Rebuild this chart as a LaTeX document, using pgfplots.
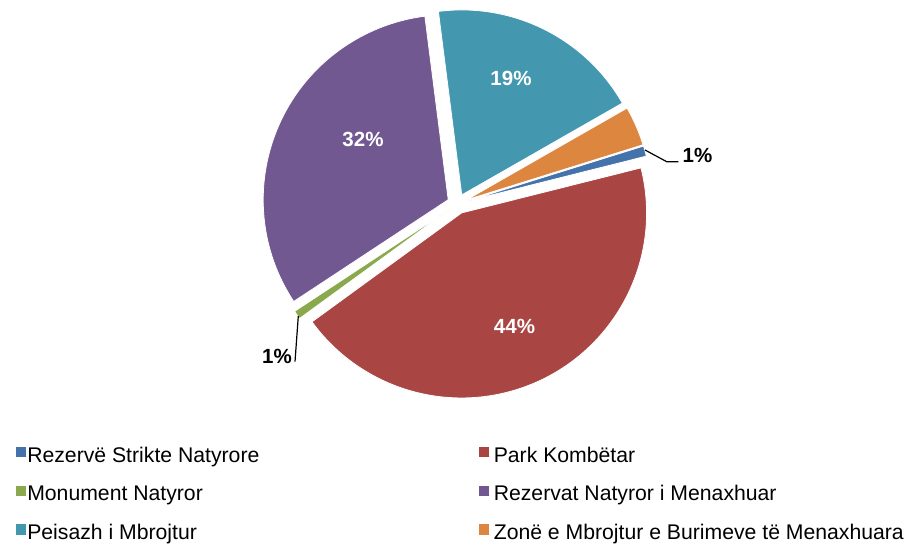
\documentclass[border=0pt]{standalone}
\usepackage{pgfplots}
\usepackage{pgfplotstable}
\pgfplotsset{compat=1.18}
\usepackage{fontspec}
\setmainfont{Liberation Sans}
\definecolor{pieblue}{HTML}{4472AA}
\definecolor{piered}{HTML}{A94542}
\definecolor{piegreen}{HTML}{8AA94D}
\definecolor{piepurple}{HTML}{725891}
\definecolor{pieteal}{HTML}{4398B0}
\definecolor{pieorange}{HTML}{DD863F}
% share of each category (percent), in drawing order (clockwise)
\pgfplotstableread{
pct
0.9
43.9
0.75
32.25
18.75
3.45
}\piedata
\def\piecolors{{"pieblue","piered","piegreen","piepurple","pieteal","pieorange"}}
\begin{document}
\begin{tikzpicture}
\begin{axis}[
  width=909bp, height=543bp, scale only axis,
  xmin=0, xmax=909, ymin=0, ymax=543, enlargelimits=false,
  hide axis, clip=false,
  legend columns=2,
  legend style={draw=none, fill=none, at={(axis cs:16,96)}, anchor=north west,
    inner sep=0pt, outer sep=0pt, column sep=0pt, row sep=19bp,
    nodes={inner sep=0pt, text height=15bp, text depth=4.5bp},
    font=\fontsize{21.2bp}{25bp}\selectfont},
  legend cell align=left,
  legend image code/.code={\fill (0bp,-0.5bp) rectangle (10bp,10bp); \path (0bp,0bp) -- (11.3bp,0bp);},
]
\path (axis cs:0,0) rectangle (axis cs:909,543);
\addlegendimage{fill=pieblue, draw=none}
\addlegendentry{\makebox[451.7bp][l]{Rezervë Strikte Natyrore}}
\addlegendimage{fill=piered, draw=none}
\addlegendentry{\hspace*{3.5bp}Park Kombëtar}
\addlegendimage{fill=piegreen, draw=none}
\addlegendentry{\makebox[451.7bp][l]{Monument Natyror}}
\addlegendimage{fill=piepurple, draw=none}
\addlegendentry{\hspace*{3.5bp}Rezervat Natyror i Menaxhuar}
\addlegendimage{fill=pieteal, draw=none}
\addlegendentry{\makebox[451.7bp][l]{Peisazh i Mbrojtur}}
\addlegendimage{fill=pieorange, draw=none}
\addlegendentry{\hspace*{3.5bp}Zonë e Mbrojtur e Burimeve të Menaxhuara}

\pgfplotsextra{
  \def\curang{17.34}
  \pgfplotsforeachungrouped \i in {0,...,5}{
    \pgfplotstablegetelem{\i}{pct}\of\piedata
    \let\p=\pgfplotsretval
    \pgfmathsetmacro\sa{\curang}
    \pgfmathsetmacro\ea{\curang-3.6*\p}
    \pgfmathsetmacro\ma{(\sa+\ea)/2}
    \pgfmathsetmacro\cx{457.3+10*cos(\ma)}
    \pgfmathsetmacro\cy{339.1+10*sin(\ma)}
    \pgfmathparse{\piecolors[\i]}\let\col=\pgfmathresult
    \fill[fill=\col, draw=white, line width=0.8bp] (axis cs:\cx,\cy) -- ++(\sa:185bp)
      arc[start angle=\sa, end angle=\ea, radius=185bp] -- cycle;
    \global\let\curang=\ea
  }
}
% leader lines
\addplot[forget plot, black, line width=1.2bp] coordinates {(645,393) (666.7,381.3) (678.3,381.3)};
\addplot[forget plot, black, line width=1.2bp] coordinates {(298.3,227) (295,181.3)};
% data labels
\begin{scope}[every node/.style={inner sep=0pt, anchor=base, font=\fontsize{20.5bp}{24bp}\selectfont\bfseries}]
\node[white] at (axis cs:511,457) {19\%};
\node[white] at (axis cs:363,396) {32\%};
\node[white] at (axis cs:514.5,209) {44\%};
\node[black] at (axis cs:697.5,380.3) {1\%};
\node[black] at (axis cs:277,179.7) {1\%};
\end{scope}
\end{axis}
\end{tikzpicture}
\end{document}
